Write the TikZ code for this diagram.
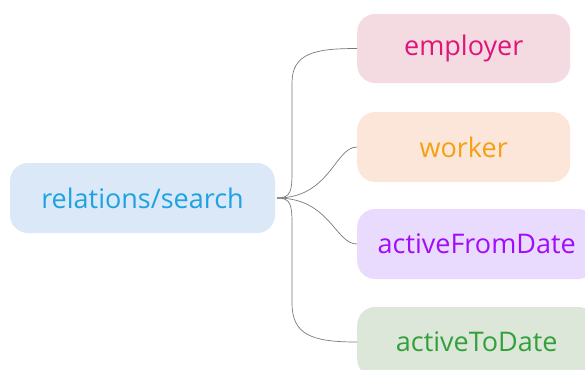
\documentclass[tikz,border=0pt]{standalone}
\usepackage{fontspec}
\setmainfont{Open Sans}
\definecolor{rootfill}{HTML}{DAE8F7}
\definecolor{roottext}{HTML}{1EA2E2}
\definecolor{empfill}{HTML}{F4DBE2}
\definecolor{emptext}{HTML}{E0157A}
\definecolor{wrkfill}{HTML}{FBE6D9}
\definecolor{wrktext}{HTML}{F5A011}
\definecolor{afdfill}{HTML}{E8DBFD}
\definecolor{afdtext}{HTML}{A30BFA}
\definecolor{atdfill}{HTML}{DCE7DA}
\definecolor{atdtext}{HTML}{33A03B}
\definecolor{linkgray}{HTML}{7A7A7A}
\tikzset{
  topic/.style={rounded corners=18pt, inner sep=0pt, minimum height=70pt,
    font=\fontsize{27}{31}\selectfont},
  child/.style={topic, anchor=west},
  link/.style={draw=linkgray, line width=0.7pt}
}
\begin{document}
\begin{tikzpicture}[x=1pt,y=-1pt]
\useasboundingbox (0,0) rectangle (585,369);
\node[topic, fill=rootfill, text=roottext, minimum width=265pt] (root) at (142.5,198) {relations/search};
\node[child, fill=empfill, text=emptext, minimum width=213pt, minimum height=69pt] (emp) at (357,48.5) {employer};
\node[child, fill=wrkfill, text=wrktext, minimum width=213pt] (wrk) at (357,147) {worker};
\node[child, fill=afdfill, text=afdtext, minimum width=239pt] (afd) at (357,244) {activeFromDate};
\node[child, fill=atdfill, text=atdtext, minimum width=239pt] (atd) at (357,342) {activeToDate};
\coordinate (o) at (277,198);
\draw[link] (o) .. controls (291,198) and (292,191) .. (292,171) -- (292,83) .. controls (292,53) and (315,48.5) .. (emp.west);
\draw[link] (o) .. controls (330,198) and (335,147) .. (wrk.west);
\draw[link] (o) .. controls (330,198) and (335,244) .. (afd.west);
\draw[link] (o) .. controls (291,198) and (292,205) .. (292,225) -- (292,303) .. controls (292,335) and (312,342) .. (atd.west);
\end{tikzpicture}
\end{document}
